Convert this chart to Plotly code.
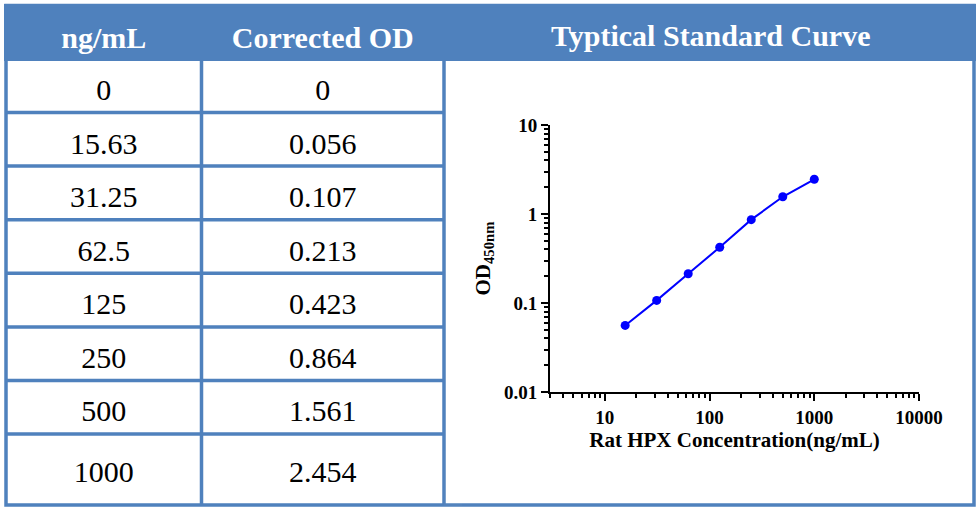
import plotly.graph_objects as go

# ---------------- data ----------------
headers = ["ng/mL", "Corrected OD"]
conc_labels = ["0", "15.63", "31.25", "62.5", "125", "250", "500", "1000"]
od_labels = ["0", "0.056", "0.107", "0.213", "0.423", "0.864", "1.561", "2.454"]

conc = [15.63, 31.25, 62.5, 125, 250, 500, 1000]
od = [0.056, 0.107, 0.213, 0.423, 0.864, 1.561, 2.454]

chart_title = "Typtical Standard Curve"
x_title = "Rat HPX Concentration(ng/mL)"
y_title = "OD<sub>450nm</sub>"
x_tickvals = [10, 100, 1000, 10000]
x_ticktext = ["10", "100", "1000", "10000"]
y_tickvals = [0.01, 0.1, 1, 10]
y_ticktext = ["0.01", "0.1", "1", "10"]

# ---------------- style / layout ----------------
W, H = 980, 507
BLUE = "#4F81BD"
CLEAR = "rgba(0,0,0,0)"
SERIF = "Liberation Serif, Times New Roman, serif"
LW = 3.5

# table grid geometry (pixels from top-left)
FRAME_L, FRAME_R, FRAME_T, FRAME_B = 6, 974, 4, 505
HEADER_B = 61
COL_SEPS = [201.5, 444]
FIRST_ROW_LINE = 112.5
ROW_PITCH = 53.6
TEXT_SHIFT = 8.5
LAST_ROW_TOP = 435   # the taller last row has its text a little lower


def px(x):
    return x / W


def py(y):
    return 1 - y / H


col_widths = [COL_SEPS[0] - FRAME_L, COL_SEPS[1] - COL_SEPS[0]]
cell_style = dict(
    fill_color=CLEAR,
    line=dict(color=CLEAR, width=0),
    font=dict(family=SERIF, size=30, color="black"),
    height=53.5,
    align="center",
)

table_main = go.Table(
    domain=dict(x=[px(FRAME_L), px(COL_SEPS[1])], y=[0, py(FRAME_T + TEXT_SHIFT)]),
    columnwidth=col_widths,
    header=dict(
        values=[f"<b>{h}</b>" for h in headers],
        fill_color=CLEAR,
        line=dict(color=CLEAR, width=0),
        font=dict(family=SERIF, size=30, color="white"),
        height=57,
        align="center",
    ),
    cells=dict(values=[conc_labels[:-1], od_labels[:-1]], **cell_style),
)

table_last = go.Table(
    domain=dict(x=[px(FRAME_L), px(COL_SEPS[1])], y=[0, py(LAST_ROW_TOP)]),
    columnwidth=col_widths,
    header=dict(values=[], fill_color=CLEAR, line=dict(color=CLEAR, width=0)),
    cells=dict(values=[conc_labels[-1:], od_labels[-1:]], **cell_style),
)

curve = go.Scatter(
    x=conc,
    y=od,
    mode="lines+markers",
    line=dict(color="#0000FF", width=2),
    marker=dict(color="#0000FF", size=9),
    showlegend=False,
    xaxis="x",
    yaxis="y",
)

fig = go.Figure([curve, table_main, table_last])

axis_common = dict(
    type="log",
    automargin=False,
    showline=True,
    linecolor="black",
    linewidth=2,
    ticks="outside",
    ticklen=7,
    tickwidth=2,
    tickcolor="black",
    showgrid=False,
    zeroline=False,
    tickfont=dict(family=SERIF, size=19, color="black", weight="bold"),
    minor=dict(ticks="outside", ticklen=4, tickwidth=1.5, tickcolor="black",
               dtick="D1", showgrid=False),
)

line_style = dict(color=BLUE, width=LW)
shapes = [
    # header band across the full width
    dict(type="rect", xref="paper", yref="paper", x0=px(4), x1=px(976),
         y0=py(HEADER_B), y1=py(FRAME_T), fillcolor=BLUE, line=dict(width=0),
         layer="below"),
    # outer frame
    dict(type="rect", xref="paper", yref="paper", x0=px(FRAME_L), x1=px(FRAME_R),
         y0=py(FRAME_B), y1=py(FRAME_T + 1.5), line=line_style, layer="below"),
]
# column separators
for xs in COL_SEPS:
    shapes.append(dict(type="line", xref="paper", yref="paper", x0=px(xs), x1=px(xs),
                       y0=py(FRAME_B), y1=py(HEADER_B), line=line_style, layer="below"))
# row separators (between the table rows)
for k in range(len(conc_labels) - 1):
    yk = FIRST_ROW_LINE + k * ROW_PITCH
    shapes.append(dict(type="line", xref="paper", yref="paper", x0=px(FRAME_L),
                       x1=px(COL_SEPS[1]), y0=py(yk), y1=py(yk), line=line_style,
                       layer="below"))

fig.update_layout(
    width=W,
    height=H,
    margin=dict(l=0, r=0, t=0, b=0, pad=0, autoexpand=False),
    paper_bgcolor="white",
    plot_bgcolor="rgba(0,0,0,0)",
    font=dict(family=SERIF),
    xaxis=dict(
        axis_common,
        domain=[px(550), px(919)],
        range=[0.476, 4],
        anchor="y",
        tickvals=x_tickvals,
        ticktext=x_ticktext,
        title=dict(text=x_title, standoff=6,
                   font=dict(family=SERIF, size=21, color="black", weight="bold")),
    ),
    yaxis=dict(
        axis_common,
        domain=[py(392), py(125)],
        range=[-2, 1],
        anchor="x",
        tickvals=y_tickvals,
        ticktext=y_ticktext,
        title=dict(text=y_title, standoff=8,
                   font=dict(family=SERIF, size=21, color="black", weight="bold")),
    ),
    shapes=shapes,
    annotations=[
        dict(text=f"<b>{chart_title}</b>", xref="paper", yref="paper",
             x=px(710), y=py(35), xanchor="center", yanchor="middle",
             showarrow=False, font=dict(family=SERIF, size=30, color="white")),
    ],
)

fig.write_html(
    "out.html",
    config={"displayModeBar": False},
    post_script="document.body.style.margin='0';",
)
